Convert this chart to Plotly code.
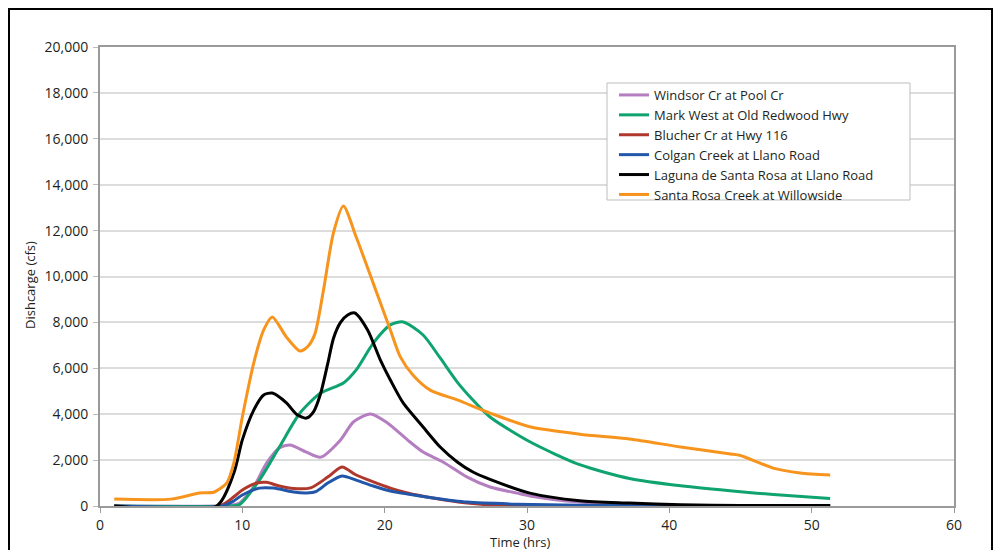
import plotly.graph_objects as go

# ---- data ----
series_names = [
    "Windsor Cr at Pool Cr",
    "Mark West at Old Redwood Hwy",
    "Blucher Cr at Hwy 116",
    "Colgan Creek at Llano Road",
    "Laguna de Santa Rosa at Llano Road",
    "Santa Rosa Creek at Willowside",
]

windsor_t = [1, 8.5, 9.2, 9.8, 10.8, 11.7, 12.6, 13.35, 14.5, 15.5, 16.9, 17.8, 19.0, 20.2, 21.6, 22.7, 24.1, 25.8, 27.4, 29.3, 30.2, 33.7, 38, 45, 51.3]
windsor_q = [0, 0, 30, 130, 830, 1870, 2530, 2660, 2350, 2130, 2880, 3660, 4010, 3620, 2880, 2350, 1920, 1260, 830, 560, 440, 170, 20, 0, 0]

markwest_t = [1, 9.0, 9.8, 11.2, 12.6, 14.05, 15.5, 17.1, 18.0, 19.2, 20.4, 21.3, 22.7, 23.9, 25.1, 26.2, 27.4, 30.2, 33.7, 37.2, 40.8, 45.0, 47.3, 51.3]
markwest_q = [0, 0, 60, 1130, 2570, 4050, 4920, 5360, 5930, 7100, 7890, 8020, 7450, 6450, 5400, 4620, 3880, 2800, 1800, 1200, 880, 620, 500, 330]

blucher_t = [1, 8.4, 9.4, 10.0, 11.0, 11.7, 12.6, 13.6, 14.8, 16.0, 17.0, 18.0, 19.2, 20.4, 21.6, 23.4, 25.8, 28, 35, 51.3]
blucher_q = [0, 0, 400, 700, 1000, 1030, 870, 760, 790, 1260, 1700, 1350, 1050, 780, 570, 350, 130, 30, 0, 0]

colgan_t = [1, 8.6, 9.4, 10.0, 11.2, 12.2, 13.6, 14.5, 15.2, 16.0, 17.0, 18.0, 19.2, 20.4, 21.6, 23.4, 25.8, 29.3, 35, 51.3]
colgan_q = [0, 0, 220, 480, 780, 780, 610, 570, 640, 1000, 1310, 1130, 870, 650, 520, 350, 170, 80, 20, 10]

laguna_t = [1, 8.2, 9.4, 10.0, 10.8, 11.5, 12.1, 13.1, 13.8, 14.5, 15.0, 15.5, 16.0, 16.4, 16.9, 17.4, 17.9, 18.8, 19.7, 20.4, 21.3, 22.7, 23.9, 25.1, 26.2, 27.4, 30.2, 33.7, 37.2, 40.8, 45, 51.3]
laguna_q = [0, 0, 1430, 2880, 4180, 4840, 4920, 4490, 4000, 3830, 4100, 4900, 6200, 7300, 8000, 8320, 8410, 7670, 6360, 5490, 4490, 3440, 2570, 1920, 1480, 1160, 560, 230, 130, 50, 20, 20]

santarosa_t = [1, 5.0, 7.0, 8.0, 8.9, 9.4, 10.0, 10.8, 11.5, 12.1, 13.1, 14.05, 14.6, 15.1, 15.7, 16.4, 17.1, 18.0, 19.2, 20.4, 21.1, 22.0, 23.2, 25.1, 27.4, 30.2, 33.7, 37.2, 40.8, 44.3, 45.0, 47.3, 49.2, 51.3]
santarosa_q = [300, 300, 570, 600, 1000, 1870, 3880, 6230, 7670, 8240, 7360, 6750, 6950, 7500, 9400, 11900, 13070, 11720, 9700, 7670, 6500, 5700, 5050, 4620, 4050, 3450, 3130, 2920, 2570, 2270, 2200, 1650, 1440, 1350]

x_ticks = [0, 10, 20, 30, 40, 50, 60]
y_ticks = [0, 2000, 4000, 6000, 8000, 10000, 12000, 14000, 16000, 18000, 20000]

series_t = [windsor_t, markwest_t, blucher_t, colgan_t, laguna_t, santarosa_t]
series_q = [windsor_q, markwest_q, blucher_q, colgan_q, laguna_q, santarosa_q]
colors = ["#B47EC0", "#0FA46F", "#B0372B", "#2156A9", "#000000", "#F7941D"]

# ---- figure ----
OFF = 8  # page body margin
W, H = 1001 - 2 * OFF, 558 - 2 * OFF
L, T = 100 - OFF, 47 - OFF
R = W - (954 - OFF)
B = H - (506 - OFF)
pw, ph = W - L - R, H - T - B

def px(xp):  # reference-screen pixel -> paper x
    return (xp - OFF - L) / pw

def py(yp):  # reference-screen pixel -> paper y
    return (H - B - (yp - OFF)) / ph

fig = go.Figure()
for name, t, q, c in zip(series_names, series_t, series_q, colors):
    fig.add_trace(go.Scatter(
        x=t, y=q, name=name, mode="lines",
        line=dict(color=c, width=3, shape="spline", smoothing=0.7),
    ))

font_family = "Open Sans, Noto Sans, sans-serif"

fig.update_layout(
    width=W, height=H,
    margin=dict(l=L, r=R, t=T, b=B, pad=0),
    paper_bgcolor="white",
    plot_bgcolor="white",
    font=dict(family=font_family, size=13, color="#231F20"),
    showlegend=True,
    legend=dict(
        x=px(614), y=py(80), xanchor="left", yanchor="top",
        bgcolor="rgba(0,0,0,0)", borderwidth=0,
        font=dict(family=font_family, size=13, color="#231F20"),
        tracegroupgap=0, itemwidth=30,
    ),
    xaxis=dict(
        range=[0, 60], tickvals=x_ticks, ticktext=[str(v) for v in x_ticks],
        showgrid=False, zeroline=False,
        showline=True, linecolor="#9A9A9A", linewidth=2, mirror=True,
        ticks="outside", ticklen=5, tickcolor="#9A9A9A", tickwidth=1,
        tickfont=dict(size=14),
    ),
    yaxis=dict(
        range=[0, 20000], tickvals=y_ticks,
        ticktext=[f"{v:,}" for v in y_ticks],
        showgrid=True, gridcolor="#DCDCDC", gridwidth=1.5, zeroline=False,
        showline=True, linecolor="#9A9A9A", linewidth=2, mirror=True,
        ticks="outside", ticklen=5, tickcolor="#BDBDBD", tickwidth=1,
        tickfont=dict(size=14), ticklabelstandoff=2,
    ),
    annotations=[
        dict(text="Dishcarge (cfs)", x=px(30), y=py(285), xref="paper", yref="paper",
             textangle=-90, showarrow=False, xanchor="center", yanchor="middle",
             font=dict(size=13)),
        dict(text="Time (hrs)", x=px(520), y=py(542), xref="paper", yref="paper",
             showarrow=False, xanchor="center", yanchor="middle",
             font=dict(size=13)),
    ],
    shapes=[
        # outer black frame
        dict(type="rect", xref="paper", yref="paper",
             x0=px(9), x1=px(OFF + W - 1), y0=py(OFF + H + 20), y1=py(OFF + 1),
             line=dict(color="#000000", width=2), layer="below"),
        # legend box
        dict(type="rect", xref="paper", yref="paper",
             x0=px(607), x1=px(910), y0=py(200), y1=py(83),
             line=dict(color="#BDBDBD", width=1), fillcolor="white", layer="above"),
    ],
)

fig.write_html("out.html")
